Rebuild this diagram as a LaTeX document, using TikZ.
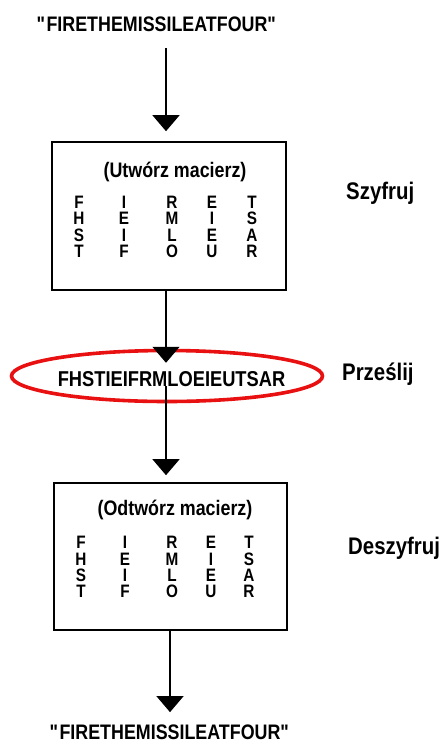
\documentclass[tikz,border=0pt]{standalone}
\usepackage{fontspec}
\setmainfont{Liberation Sans}[FakeStretch=0.85]
\usetikzlibrary{arrows.meta,shapes.geometric}
\definecolor{ringred}{RGB}{232,16,16}
\newcommand{\qd}{\textquotedbl}
\begin{document}
\begin{tikzpicture}[x=1pt,y=-1pt,
  txt/.style={inner sep=0pt,font=\bfseries\fontsize{21}{21}\selectfont},
  side/.style={inner sep=0pt,anchor=base west,font=\bfseries\fontsize{24}{24}\selectfont},
  title/.style={inner sep=0pt,anchor=base,font=\bfseries\fontsize{21}{21}\selectfont},
  cell/.style={inner sep=0pt,anchor=base,font=\bfseries\fontsize{18}{18}\selectfont},
  framebox/.style={draw,line width=1.6pt,inner sep=0pt},
  arr/.style={line width=1.2pt,-{Triangle[width=27pt,length=16pt]}}]
\useasboundingbox (0,0) rectangle (442,742);
\coordinate (axis) at (166,0);

% plaintext in and out
\node[txt,anchor=base] (top) at (157,31) {\qd FIRETHEMISSILEATFOUR\qd};
\node[txt,anchor=base] (bot) at (170,739) {\qd FIRETHEMISSILEATFOUR\qd};

% encryption box
\node[framebox,minimum width=234pt,minimum height=148pt] (box1) at (169,216) {};
\node[title] (t1) at (175,177) {(Utwórz macierz)};
% decryption box
\node[framebox,minimum width=233pt,minimum height=147pt] (box2) at (170.5,556.5) {};
\node[title] (t2) at (175,515) {(Odtwórz macierz)};

% letter grid of the encryption box
\foreach \ch/\cx [count=\c] in {F/79,I/124,R/172,E/212,T/252}
  \node[cell] (ua\c) at (\cx,208) {\ch};
\foreach \ch/\cx [count=\c] in {H/79,E/124,M/172,I/212,S/252}
  \node[cell] (ub\c) at (\cx,224.5) {\ch};
\foreach \ch/\cx [count=\c] in {S/79,I/124,L/172,E/212,A/252}
  \node[cell] (uc\c) at (\cx,241) {\ch};
\foreach \ch/\cx [count=\c] in {T/79,F/124,O/172,U/212,R/252}
  \node[cell] (ud\c) at (\cx,257) {\ch};

% letter grid of the decryption box
\foreach \ch/\cx [count=\c] in {F/81,I/125,R/172,E/211,T/249}
  \node[cell] (oa\c) at (\cx,548.5) {\ch};
\foreach \ch/\cx [count=\c] in {H/81,E/125,M/172,I/211,S/249}
  \node[cell] (ob\c) at (\cx,565) {\ch};
\foreach \ch/\cx [count=\c] in {S/81,I/125,L/172,E/211,A/249}
  \node[cell] (oc\c) at (\cx,581.5) {\ch};
\foreach \ch/\cx [count=\c] in {T/81,F/125,O/172,U/211,R/249}
  \node[cell] (od\c) at (\cx,597) {\ch};

% ciphertext in its ring
\node[ellipse,draw=ringred,line width=3.6pt,minimum width=311pt,minimum height=51pt,inner sep=0pt] (ring) at (167,376) {};
\node[txt,anchor=base,font=\bfseries\fontsize{21.5}{21.5}\selectfont] (msg) at (171.5,386) {FHSTIEIFRMLOEIEUTSAR};

% step labels
\node[side] (l1) at (346,199) {Szyfruj};
\node[side] (l2) at (342,380) {Prześlij};
\node[side] (l3) at (348,554) {Deszyfruj};

% flow
\draw[arr,shorten <=17pt,shorten >=10pt] (top.south -| axis) -- (box1.north -| axis);
\draw[arr,shorten >=8pt] (box1.south -| axis) -- (msg.north -| axis);
\draw[arr,shorten >=7pt] (msg.south -| axis) -- (box2.north -| axis);
\draw[arr,shorten >=12pt] (box2.south -| bot.north) -- (bot.north);
\end{tikzpicture}
\end{document}
